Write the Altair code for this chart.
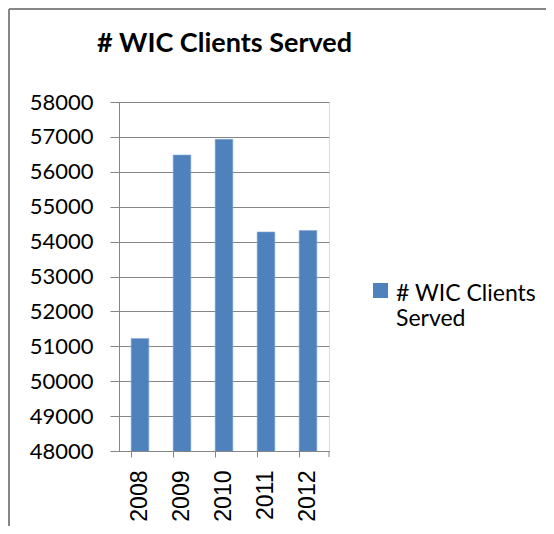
import altair as alt
import pandas as pd

years = ["2008", "2009", "2010", "2011", "2012"]
clients = [51220, 56480, 56930, 54275, 54315]
series_name = "# WIC Clients Served"
y_ticks = list(range(48000, 58001, 1000))

df = pd.DataFrame({"year": years, "clients": clients, "series": [series_name] * len(years)})
one = pd.DataFrame({"a": [0]})

GREY = "#868686"

bars = alt.Chart(df).mark_bar(color="#4F81BD", stroke="#7FA6D6", strokeWidth=0.6, clip=True).encode(
    x=alt.X("year:N", title=None,
            scale=alt.Scale(paddingInner=0.58, paddingOuter=0.29),
            axis=alt.Axis(labelAngle=-90, bandPosition=0, tickSize=6, labelPadding=13,
                          labelFont="Liberation Sans", labelFontSize=23, labelColor="#000000",
                          domainColor=GREY, tickColor=GREY, grid=False)),
    y=alt.Y("clients:Q", title=None,
            scale=alt.Scale(domain=[48000, 58000], nice=False, zero=False),
            axis=alt.Axis(values=y_ticks, format="d", tickSize=9, labelPadding=17,
                          labelFont="Lato", labelFontSize=22, labelColor="#000000",
                          domainColor=GREY, tickColor=GREY, gridColor=GREY, grid=True)),
    color=alt.Color("series:N", scale=alt.Scale(range=["#4F81BD"]),
                    legend=alt.Legend(title=None, orient="none", legendX=250, legendY=169,
                                      symbolType="M-1,0.07H1V2.07H-1Z", symbolSize=225,
                                      symbolStrokeWidth=0,
                                      labelFont="Lato", labelFontSize=23, labelColor="#000000",
                                      labelExpr="['# WIC Clients', 'Served']",
                                      labelBaseline="top", labelOffset=4, labelLimit=300)),
)

last_tick = alt.Chart(one).mark_rule(color=GREY, strokeWidth=1).encode(
    x=alt.value(210), y=alt.value(349), y2=alt.value(355))

frame_top = alt.Chart(one).mark_rule(color=GREY, strokeWidth=2).encode(
    x=alt.value(-110), x2=alt.value(430), y=alt.value(-93))
frame_left = alt.Chart(one).mark_rule(color=GREY, strokeWidth=2).encode(
    x=alt.value(-110), y=alt.value(-93), y2=alt.value(430))

chart = alt.layer(bars, last_tick, frame_top, frame_left).properties(
    width=210, height=349,
    title=alt.Title(series_name, anchor="start", frame="group", dx=-22, offset=-71,
                    baseline="alphabetic",
                    font="Lato", fontSize=27, fontWeight="bold", color="#000000"),
    autosize=alt.AutoSizeParams(type="none"),
    padding={"left": 111, "top": 94, "right": 217, "bottom": 75},
).configure_view(stroke=None).configure(background="#ffffff")

chart.save("out.html", embed_options={"renderer": "svg", "actions": False})
